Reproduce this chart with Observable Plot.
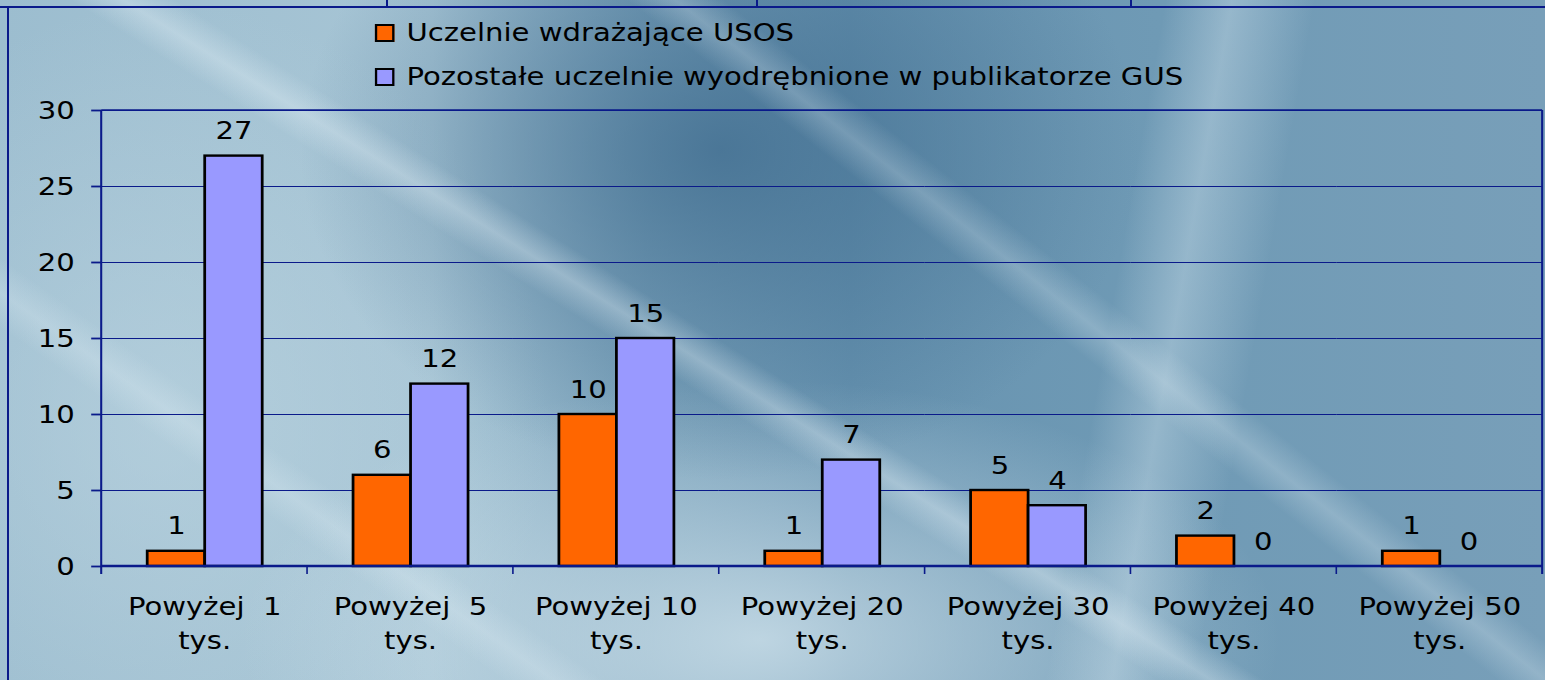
<!DOCTYPE html>
<html>
<head>
<meta charset="utf-8">
<script src="https://cdn.jsdelivr.net/npm/d3@7"></script>
<script src="https://cdn.jsdelivr.net/npm/@observablehq/plot@0.6"></script>
<style>
  html, body { margin: 0; padding: 0; }
  body {
    width: 1545px; height: 680px; overflow: hidden; position: relative;
    font-family: "DejaVu Sans", Verdana, sans-serif;
    background:
      linear-gradient(32deg, rgba(255,255,255,0) 44%, rgba(230,242,248,0.35) 46%, rgba(255,255,255,0) 48%),
      linear-gradient(35deg, rgba(255,255,255,0) 20%, rgba(230,242,248,0.25) 22%, rgba(255,255,255,0) 24%),
      linear-gradient(38deg, rgba(255,255,255,0) 62%, rgba(230,242,248,0.25) 64%, rgba(255,255,255,0) 66%),
      linear-gradient(100deg, rgba(255,255,255,0) 70%, rgba(220,236,244,0.35) 74%, rgba(255,255,255,0) 79%),
      radial-gradient(ellipse 420px 330px at 720px 150px, rgba(60,105,140,0.75), rgba(60,105,140,0) 100%),
      radial-gradient(ellipse 520px 260px at 760px 640px, rgba(215,232,240,0.75), rgba(215,232,240,0) 100%),
      radial-gradient(ellipse 380px 420px at 170px 420px, rgba(190,214,226,0.6), rgba(190,214,226,0) 100%),
      linear-gradient(90deg, #9cbdcf 0%, #a7c5d5 28%, #7ea5bd 42%, #6793b0 55%, #6f9ab5 75%, #789fb9 100%);
  }
  #wrap {
    position: absolute; left: 0; top: 0; width: 1343.5px; height: 680px;
    transform: scaleX(1.15); transform-origin: 0 0;
  }
  .legend-item { position: absolute; left: 326px; display: flex; align-items: center; font-size: 25.3px; color: #000; white-space: nowrap; }
  .sw { width: 12.5px; height: 14px; border: 2px solid #000; margin-right: 11px; }
  #chart { position: absolute; left: 0; top: 100px; }
  .deco { position: absolute; background: #0a1a8a; }
</style>
</head>
<body>
<div class="deco" style="left:0;top:6px;width:1545px;height:2px"></div>
<div class="deco" style="left:7px;top:6px;width:2px;height:680px"></div>
<div class="deco" style="left:386px;top:0;width:2px;height:7px"></div>
<div class="deco" style="left:756px;top:0;width:2px;height:7px"></div>
<div class="deco" style="left:1130px;top:0;width:2px;height:7px"></div>
<div id="wrap">
  <div id="legend"></div>
  <div id="chart"></div>
</div>
<script>
// ---- data ----
const categories = ["Powyżej  1 tys.", "Powyżej  5 tys.", "Powyżej 10 tys.", "Powyżej 20 tys.", "Powyżej 30 tys.", "Powyżej 40 tys.", "Powyżej 50 tys."];
const series = ["Uczelnie wdrażające USOS", "Pozostałe uczelnie wyodrębnione w publikatorze GUS"];
const usosValues = [1, 6, 10, 1, 5, 2, 1];
const otherValues = [27, 12, 15, 7, 4, 0, 0];
const yTicks = [0, 5, 10, 15, 20, 25, 30];
const colors = ["#FF6600", "#9999FF"];

const rows = [];
categories.forEach((c, i) => {
  rows.push({cat: c, series: series[0], value: usosValues[i]});
  rows.push({cat: c, series: series[1], value: otherValues[i]});
});

// ---- legend ----
const legend = document.getElementById("legend");
series.forEach((s, i) => {
  const item = document.createElement("div");
  item.className = "legend-item";
  item.style.top = (18 + i * 44) + "px";
  const sw = document.createElement("div");
  sw.className = "sw";
  sw.style.background = colors[i];
  item.appendChild(sw);
  const t = document.createElement("span");
  t.textContent = s;
  item.appendChild(t);
  legend.appendChild(item);
});

// ---- chart ----
const navy = "#0a1a8a";
const fmtCat = d => d.replace(" tys.", "\ntys.").replace(/ {2}/g, "\u00a0\u00a0");
const chart = Plot.plot({
  width: 1343.5,
  height: 580,
  marginLeft: 87,
  marginRight: 1.8,
  marginTop: 10,
  marginBottom: 114,
  style: {fontFamily: "'DejaVu Sans', Verdana, sans-serif", fontSize: "25.3px", color: "#000", background: "transparent", overflow: "visible"},
  fx: {domain: categories, padding: 0, label: null},
  x: {domain: series, axis: null, paddingInner: 0, paddingOuter: 0.76},
  y: {domain: [0, 30], label: null},
  color: {domain: series, range: colors},
  marks: [
    Plot.ruleY(yTicks, {stroke: navy, strokeWidth: 1.2}),
    Plot.axisY({ticks: yTicks, tickSize: 8.7, tickPadding: 14.8, stroke: navy, strokeWidth: 1.8, fill: "#000", label: null}),
    Plot.axisFx({anchor: "bottom", tickSize: 0, tickPadding: 25, label: null, tickFormat: fmtCat, lineHeight: 1.33, fill: "#000"}),
    Plot.barY(rows, {fx: "cat", x: "series", y: "value", fill: "series", stroke: "#000", strokeWidth: 2.4}),
    Plot.text(rows, {fx: "cat", x: "series", y: "value", text: d => String(d.value), lineAnchor: "bottom", dy: -17, fill: "#000"})
  ]
});
document.getElementById("chart").appendChild(chart);

// frame lines and category boundary ticks, from the Plot scales
const fx = chart.scale("fx");
const ys = chart.scale("y");
const y0 = ys.apply(0), yTop = ys.apply(30);
const starts = fx.domain.map(c => fx.apply(c));
const bounds = starts.concat([starts[starts.length - 1] + fx.bandwidth]);
const g = d3.select(chart).append("g").attr("stroke", navy);
bounds.forEach((bx, i) => {
  const isEdge = i === 0 || i === bounds.length - 1;
  g.append("line").attr("x1", bx).attr("x2", bx)
    .attr("y1", isEdge ? yTop : y0).attr("y2", y0 + 8)
    .attr("stroke-width", isEdge ? 1.8 : 1.4);
});
g.append("line").attr("x1", bounds[0]).attr("x2", bounds[bounds.length - 1])
  .attr("y1", y0).attr("y2", y0).attr("stroke-width", 2.4);
g.append("line").attr("x1", bounds[0]).attr("x2", bounds[bounds.length - 1])
  .attr("y1", yTop).attr("y2", yTop).attr("stroke-width", 1.6);
</script>
</body>
</html>
